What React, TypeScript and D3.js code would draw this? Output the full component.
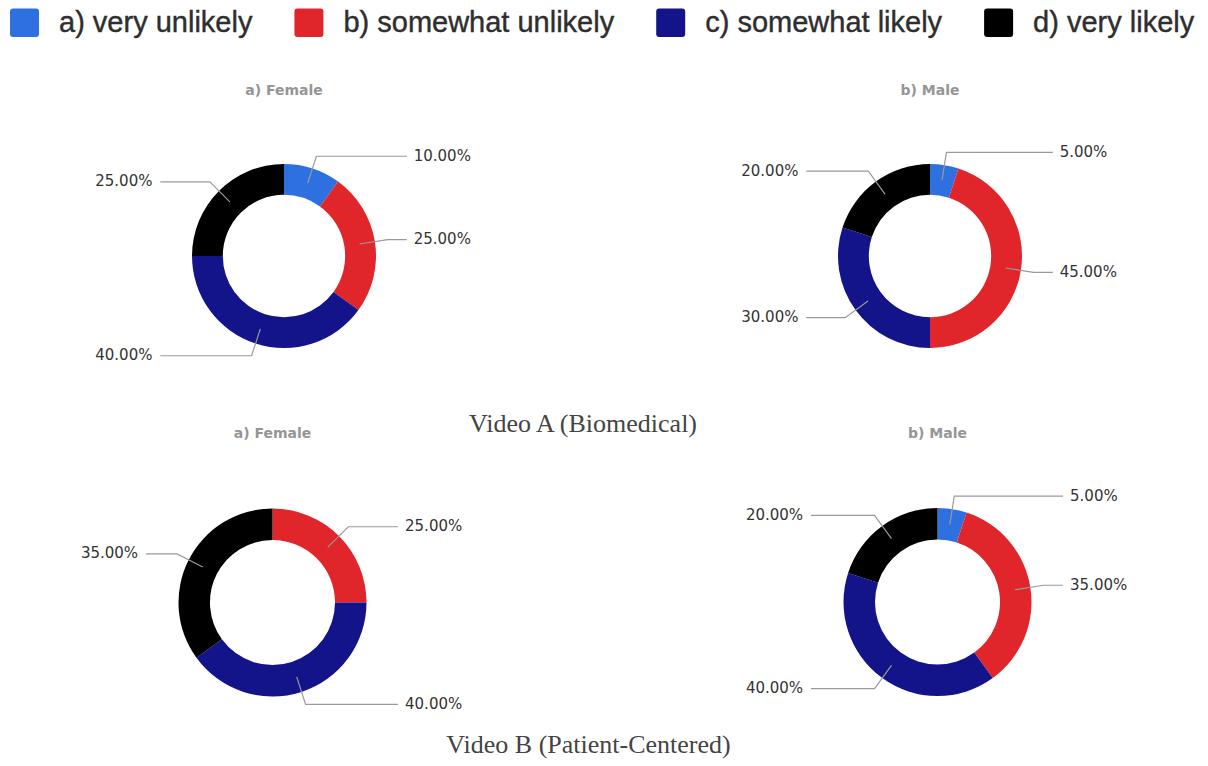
import { useEffect, useRef } from 'react'
import * as d3 from 'd3'

const categories = ['a) very unlikely', 'b) somewhat unlikely', 'c) somewhat likely', 'd) very likely']
const sliceColors = ['#2f70e0', '#e0262b', '#13148a', '#000000']

const videoAFemale = [10, 25, 40, 25]
const videoAMale = [5, 45, 30, 20]
const videoBFemale = [0, 25, 40, 35]
const videoBMale = [5, 35, 40, 20]

const panelTitles = ['a) Female', 'b) Male']
const captions = ['Video A (Biomedical)', 'Video B (Patient-Centered)']

const W = 1208
const H = 766

type Panel = { values: number[]; title: string; cx: number; cy: number; r: number }

const panels: Panel[] = [
  { values: videoAFemale, title: panelTitles[0], cx: 284, cy: 256, r: 92 },
  { values: videoAMale, title: panelTitles[1], cx: 930, cy: 256, r: 92 },
  { values: videoBFemale, title: panelTitles[0], cx: 272.5, cy: 602.5, r: 94 },
  { values: videoBMale, title: panelTitles[1], cx: 937.5, cy: 602, r: 94 },
]

export default function App() {
  const svgRef = useRef<SVGSVGElement>(null)

  useEffect(() => {
    const svgEl = svgRef.current
    if (!svgEl) return
    const svg = d3.select(svgEl)
    svg.selectAll('*').remove()

    svg.append('rect').attr('width', W).attr('height', H).attr('fill', '#fff')

    // Legend across the top
    const legend = svg.append('g')
    let lx = 10
    categories.forEach((name, i) => {
      legend.append('rect')
        .attr('x', lx).attr('y', 8.5)
        .attr('width', 29).attr('height', 28.5)
        .attr('rx', 3)
        .attr('fill', sliceColors[i])
      const t = legend.append('text')
        .attr('x', lx + 49).attr('y', 32)
        .style('font-family', '"Liberation Sans", Arial, sans-serif')
        .style('font-size', '29px')
        .style('fill', '#2e2e2e')
        .style('stroke', '#2e2e2e')
        .style('stroke-width', '0.4')
        .text(name)
      const tw = (t.node() as SVGTextElement).getComputedTextLength()
      lx = lx + 49 + tw + 42
    })

    const pie = d3.pie<number>().sort(null).value(d => d)

    panels.forEach(p => {
      const inner = p.r * 0.665
      const g = svg.append('g').attr('transform', `translate(${p.cx},${p.cy})`)
      const arc = d3.arc<d3.PieArcDatum<number>>().innerRadius(inner).outerRadius(p.r)
      const mid = d3.arc<d3.PieArcDatum<number>>().innerRadius((inner + p.r) / 2).outerRadius((inner + p.r) / 2)
      const bendR = p.r * 1.14
      const arcs = pie(p.values)

      g.selectAll('path.slice')
        .data(arcs)
        .join('path')
        .attr('class', 'slice')
        .attr('d', arc)
        .attr('fill', (_d, i) => sliceColors[i])

      // Title
      g.append('text')
        .attr('x', 0).attr('y', -p.r * 1.79)
        .attr('text-anchor', 'middle')
        .attr('dominant-baseline', 'middle')
        .style('font-family', '"DejaVu Sans", sans-serif')
        .style('font-weight', 'bold')
        .style('font-size', '14px')
        .style('fill', '#959595')
        .text(p.title)

      // Leader lines and labels
      const fmt = d3.format('.2f')
      arcs.filter(a => a.value > 0).forEach(a => {
        const ang = (a.startAngle + a.endAngle) / 2
        const [sx, sy] = mid.centroid(a)
        const bx = bendR * Math.sin(ang)
        const by = -bendR * Math.cos(ang)
        const right = bx >= 0
        const ex = right ? p.r * 1.335 : -p.r * 1.345
        g.append('polyline')
          .attr('points', [[sx, sy], [bx, by], [ex, by]].map(q => q.join(',')).join(' '))
          .attr('fill', 'none')
          .style('stroke', '#9a9a9a')
          .style('stroke-width', '1.2')
        g.append('text')
          .attr('x', right ? p.r * 1.41 : -p.r * 1.43)
          .attr('y', by)
          .attr('text-anchor', right ? 'start' : 'end')
          .attr('dominant-baseline', 'middle')
          .style('font-family', '"DejaVu Sans", sans-serif')
          .style('font-size', '15px')
          .style('fill', '#333')
          .text(`${fmt(a.value)}%`)
      })
    })

    // Captions under each row
    const capPos = [
      { x: 583, y: 432 },
      { x: 588.5, y: 753 },
    ]
    captions.forEach((c, i) => {
      svg.append('text')
        .attr('x', capPos[i].x).attr('y', capPos[i].y)
        .attr('text-anchor', 'middle')
        .style('font-family', '"Liberation Serif", "Times New Roman", serif')
        .style('font-size', '26px')
        .style('fill', '#444')
        .text(c)
    })
  }, [])

  return (
    <div style={{ position: 'absolute', left: 0, top: 0, width: W, height: H }}>
      <svg ref={svgRef} width={W} height={H} />
    </div>
  )
}
